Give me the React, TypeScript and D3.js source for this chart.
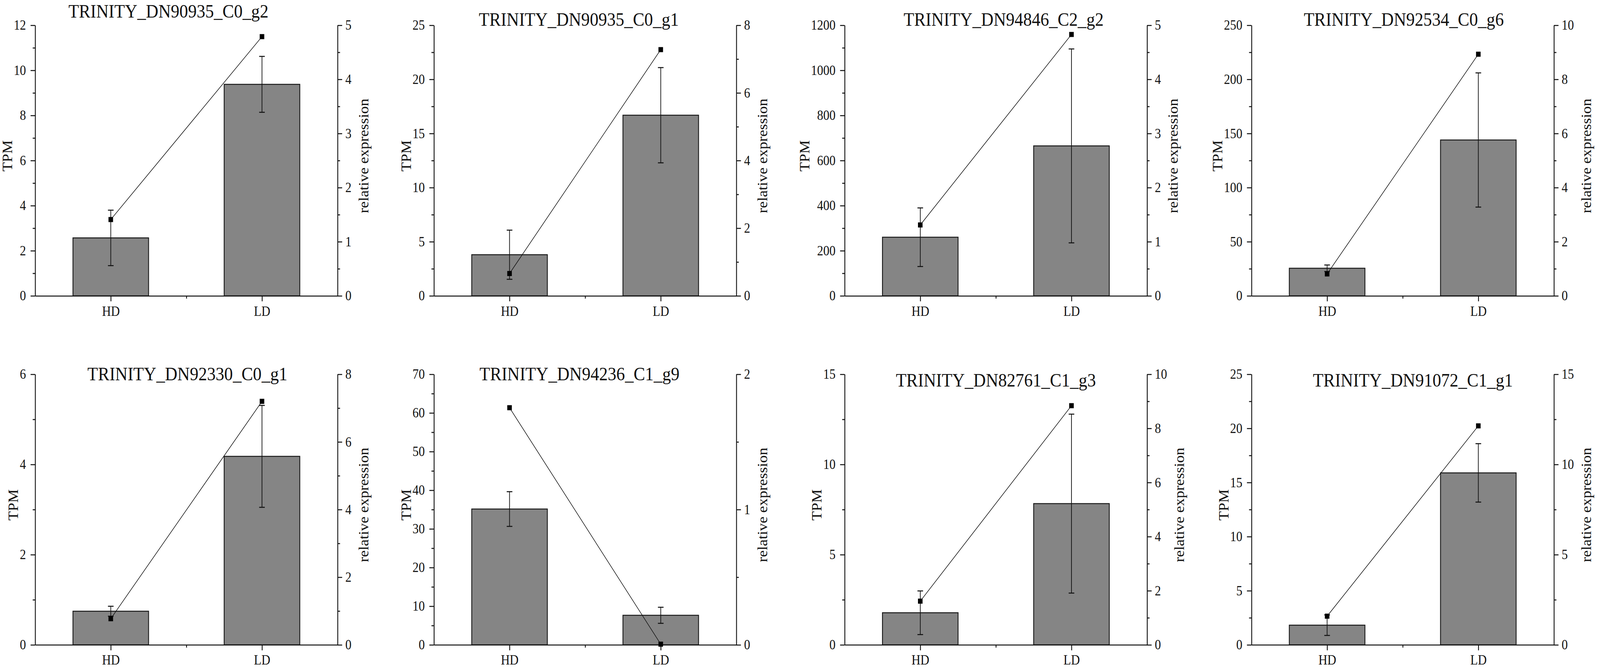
import * as React from 'react';
import * as d3 from 'd3';

// panel titles, in reading order (top row, then bottom row)
const genes = [
  'TRINITY_DN90935_C0_g2',
  'TRINITY_DN90935_C0_g1',
  'TRINITY_DN94846_C2_g2',
  'TRINITY_DN92534_C0_g6',
  'TRINITY_DN92330_C0_g1',
  'TRINITY_DN94236_C1_g9',
  'TRINITY_DN82761_C1_g3',
  'TRINITY_DN91072_C1_g1',
];
const groups = ['HD', 'LD'];

// TPM bars (mean, sd) per gene: [HD, LD]
const tpmMean = [
  [2.57, 9.38], [3.8, 16.69], [260, 665], [25.5, 144],
  [0.746, 4.18], [35.14, 7.65], [1.78, 7.83], [1.82, 15.89],
];
const tpmSd = [
  [1.23, 1.24], [2.27, 4.4], [130, 430], [3, 62],
  [0.11, 1.13], [4.49, 2.08], [1.21, 4.96], [0.95, 2.7],
];
// relative expression (line, right axis)
const relExpr = [
  [1.41, 4.79], [0.66, 7.28], [1.31, 4.83], [0.81, 8.93],
  [0.773, 7.2], [1.753, 0.005], [1.615, 8.84], [1.59, 12.14],
];

// axis extents and major steps
const tpmMax = [12, 25, 1200, 250, 6, 70, 15, 25];
const tpmStep = [2, 5, 200, 50, 2, 10, 5, 5];
const relMax = [5, 8, 5, 10, 8, 2, 10, 15];
const relStep = [1, 2, 1, 2, 2, 1, 2, 5];

const FONT = '"Liberation Serif", "Times New Roman", serif';
const W = 4550;
const H = 1716;
const colLeft = [100, 1234, 2402, 3559];
const rowTop = [64.7, 958.6];
const plotW = 860;
const plotH = 693;
// title offset from plot centre (dx) and baseline from plot top (dy)
const titleOffset = [[-51, -20], [-18, 1], [22, 1], [3, 1], [3, 15], [-16, 15], [0, 31], [29, 31]];

const tickFs = 35;
const labelFs = 39;
const titleFs = 49;

function Panel({ i }: { i: number }) {
  const ref = React.useRef<SVGGElement | null>(null);

  React.useEffect(() => {
    if (!ref.current) return;
    const g = d3.select(ref.current);
    g.selectAll('*').remove();

    const x = d3.scaleLinear().domain([0.5, 2.5]).range([0, plotW]);
    const y = d3.scaleLinear().domain([0, tpmMax[i]]).range([plotH, 0]);
    const y2 = d3.scaleLinear().domain([0, relMax[i]]).range([plotH, 0]);

    const major = (max: number, step: number) => d3.range(0, max + step / 1000, step);
    const minor = (max: number, step: number) => d3.range(step / 2, max, step);
    const fmt = (d: any) => String(+d);

    // bars
    const bars = g.append('g');
    groups.forEach((_, k) => {
      bars.append('rect')
        .attr('x', x(k + 1 - 0.25))
        .attr('width', x(1.5) - x(1))
        .attr('y', y(tpmMean[i][k]))
        .attr('height', y(0) - y(tpmMean[i][k]))
        .attr('fill', '#858585')
        .attr('stroke', '#1a1a1a')
        .attr('stroke-width', 2.5);
    });

    // error bars
    const err = g.append('g').attr('stroke', '#111').attr('stroke-width', 2);
    groups.forEach((_, k) => {
      const cx = x(k + 1);
      const lo = y(tpmMean[i][k] - tpmSd[i][k]);
      const hi = y(tpmMean[i][k] + tpmSd[i][k]);
      err.append('line').attr('x1', cx).attr('x2', cx).attr('y1', lo).attr('y2', hi);
      [lo, hi].forEach(v => {
        err.append('line').attr('x1', cx - 8).attr('x2', cx + 8).attr('y1', v).attr('y2', v).attr('stroke-width', 2.5);
      });
    });

    const styleAxis = (a: d3.Selection<SVGGElement, unknown, null, undefined>) => {
      a.attr('font-family', FONT).attr('font-size', tickFs);
      a.selectAll('path, line').attr('stroke', '#111').attr('stroke-width', 2.5);
      a.selectAll('text').attr('fill', '#111');
    };

    // left axis
    const left = g.append('g')
      .call(d3.axisLeft(y).tickValues(major(tpmMax[i], tpmStep[i])).tickFormat(fmt)
        .tickSize(13).tickPadding(13).tickSizeOuter(0) as any);
    styleAxis(left);
    const leftMinor = g.append('g')
      .call(d3.axisLeft(y).tickValues(minor(tpmMax[i], tpmStep[i])).tickSize(7).tickFormat(() => '') as any);
    leftMinor.select('.domain').remove();
    styleAxis(leftMinor);

    // right axis
    const right = g.append('g').attr('transform', `translate(${plotW},0)`)
      .call(d3.axisRight(y2).tickValues(major(relMax[i], relStep[i])).tickFormat(fmt)
        .tickSize(13).tickPadding(9).tickSizeOuter(0) as any);
    styleAxis(right);
    const rightMinor = g.append('g').attr('transform', `translate(${plotW},0)`)
      .call(d3.axisRight(y2).tickValues(minor(relMax[i], relStep[i])).tickSize(7).tickFormat(() => '') as any);
    rightMinor.select('.domain').remove();
    styleAxis(rightMinor);

    // bottom axis
    const bottom = g.append('g').attr('transform', `translate(0,${plotH})`)
      .call(d3.axisBottom(x).tickValues([1, 2]).tickFormat((d: any) => groups[d - 1])
        .tickSize(14).tickPadding(12).tickSizeOuter(0) as any);
    styleAxis(bottom);
    const bottomMinor = g.append('g').attr('transform', `translate(0,${plotH})`)
      .call(d3.axisBottom(x).tickValues([1.5]).tickSize(7).tickFormat(() => '') as any);
    bottomMinor.select('.domain').remove();
    styleAxis(bottomMinor);

    // relative expression line + square markers
    const pts = relExpr[i].map((v, k) => [x(k + 1), y2(v)] as [number, number]);
    g.append('path')
      .attr('d', d3.line()(pts) as string)
      .attr('fill', 'none')
      .attr('stroke', '#111')
      .attr('stroke-width', 1.6);
    g.selectAll('.mk').data(pts).enter().append('path')
      .attr('transform', d => `translate(${d[0]},${d[1]})`)
      .attr('d', d3.symbol(d3.symbolSquare, 13 * 13) as any)
      .attr('fill', '#000');

    // axis titles
    const leftChars = d3.max(major(tpmMax[i], tpmStep[i]), v => fmt(v).length) ?? 1;
    const rightChars = d3.max(major(relMax[i], relStep[i]), v => fmt(v).length) ?? 1;
    const midY = plotH / 2 - 12;
    g.append('text')
      .attr('transform', `translate(${-(26 + leftChars * tickFs * 0.5 + 18)},${midY}) rotate(-90)`)
      .attr('text-anchor', 'middle')
      .attr('dominant-baseline', 'central')
      .attr('font-family', FONT)
      .attr('font-size', labelFs)
      .attr('fill', '#111')
      .text('TPM');
    g.append('text')
      .attr('transform', `translate(${plotW + 22 + rightChars * tickFs * 0.5 + 35},${midY}) rotate(-90)`)
      .attr('text-anchor', 'middle')
      .attr('dominant-baseline', 'central')
      .attr('font-family', FONT)
      .attr('font-size', labelFs)
      .attr('fill', '#111')
      .text('relative expression');

    // title
    g.append('text')
      .attr('x', plotW / 2 + titleOffset[i][0])
      .attr('y', titleOffset[i][1])
      .attr('text-anchor', 'middle')
      .attr('font-family', FONT)
      .attr('font-size', titleFs)
      .attr('fill', '#111')
      .text(genes[i]);
  }, [i]);

  const tx = colLeft[i % 4];
  const ty = rowTop[Math.floor(i / 4)];
  return <g ref={ref} transform={`translate(${tx},${ty})`} />;
}

export default function App() {
  return (
    <svg
      viewBox={`0 0 ${W} ${H}`}
      preserveAspectRatio="none"
      style={{ position: 'fixed', left: 0, top: 0, width: '100vw', height: '100vh', display: 'block', background: '#fff' }}
    >
      <rect width={W} height={H} fill="#fff" />
      {genes.map((_, i) => <Panel key={i} i={i} />)}
    </svg>
  );
}
